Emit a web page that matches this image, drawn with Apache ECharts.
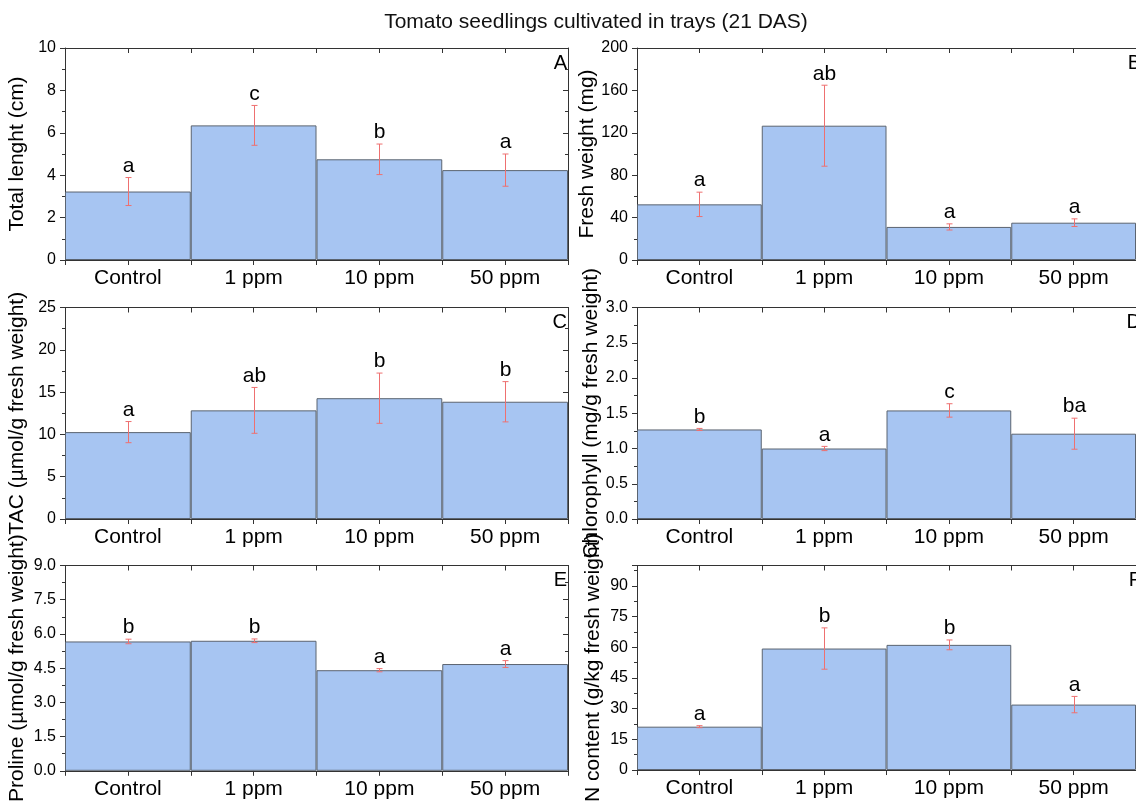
<!DOCTYPE html>
<html><head><meta charset="utf-8">
<script src="https://cdn.jsdelivr.net/npm/echarts@6/dist/echarts.min.js"></script>
<style>html,body{margin:0;padding:0;background:#fff}#c{width:1136px;height:804px}</style>
</head><body><div id="c"></div><script>
const categories = ['Control', '1 ppm', '10 ppm', '50 ppm'];

const lengthMean = [3.23, 6.35, 4.75, 4.24];
const lengthErr = [0.66, 0.94, 0.72, 0.76];
const lengthLetters = ['a', 'c', 'b', 'a'];

const freshMean = [52.5, 126.7, 31.2, 35.2];
const freshErr = [11.5, 38.2, 2.9, 3.6];
const freshLetters = ['a', 'ab', 'a', 'a'];

const tacMean = [10.27, 12.84, 14.28, 13.86];
const tacErr = [1.25, 2.71, 2.97, 2.38];
const tacLetters = ['a', 'ab', 'b', 'b'];

const chlMean = [1.27, 1.00, 1.54, 1.21];
const chlErr = [0.015, 0.03, 0.095, 0.22];
const chlLetters = ['b', 'a', 'c', 'ba'];

const prolineMean = [5.67, 5.70, 4.41, 4.68];
const prolineErr = [0.10, 0.08, 0.07, 0.15];
const prolineLetters = ['b', 'b', 'a', 'a'];

const nMean = [21.2, 59.4, 61.2, 32.0];
const nErr = [0.5, 10.1, 2.4, 4.0];
const nLetters = ['a', 'b', 'b', 'a'];

const axisNames = ['Total lenght (cm)', 'Fresh weight (mg)', 'TAC (\u00b5mol/g fresh weight)',
  'Chlorophyll (mg/g fresh weight)', 'Proline (\u00b5mol/g fresh weight)', 'N content (g/kg fresh weight)'];
const axisMax = [10, 200, 25, 3, 9, 100];
const axisInterval = [2, 40, 5, 0.5, 1.5, 15];
const axisDigits = [0, 0, 0, 1, 1, 0];
const panelTags = ['A', 'B', 'C', 'D', 'E', 'F'];
const chartTitle = 'Tomato seedlings cultivated in trays (21 DAS)';

const means = [lengthMean, freshMean, tacMean, chlMean, prolineMean, nMean];
const errs = [lengthErr, freshErr, tacErr, chlErr, prolineErr, nErr];
const letters = [lengthLetters, freshLetters, tacLetters, chlLetters, prolineLetters, nLetters];

const FONT = '"Liberation Sans", Arial, Helvetica, sans-serif';
const colLeft = [65, 637], colWidth = [503, 505];
const rowTop = [48, 307.5, 565.5], rowHeight = [212, 211.5, 211];
const lineColor = '#333';

const grid = [], xAxis = [], yAxis = [], series = [], graphic = [];
graphic.push({type: 'text', x: 596, y: 22, style: {text: chartTitle, font: '21px ' + FONT, fill: '#111', align: 'center', verticalAlign: 'middle'}});

for (let p = 0; p < 6; p++) {
  const col = p % 2, row = Math.floor(p / 2);
  grid.push({left: colLeft[col], top: rowTop[row], width: colWidth[col], height: rowHeight[row], containLabel: false});
  const base = {type: 'category', data: categories, gridIndex: p, boundaryGap: true};
  const xi = xAxis.length;
  xAxis.push(Object.assign({}, base, {position: 'bottom',
    axisLine: {show: true, lineStyle: {color: lineColor, width: 1}},
    axisTick: {show: true, alignWithLabel: true, inside: false, length: 5, lineStyle: {color: lineColor}},
    axisLabel: {show: true, fontSize: 21, fontFamily: FONT, color: '#000', margin: 8}}));
  xAxis.push(Object.assign({}, base, {position: 'bottom',
    axisLine: {show: false}, axisTick: {show: true, alignWithLabel: false, inside: false, length: 5, interval: 0, lineStyle: {color: lineColor}},
    axisLabel: {show: false}}));
  xAxis.push(Object.assign({}, base, {position: 'top',
    axisLine: {show: true, onZero: false, lineStyle: {color: lineColor, width: 1}},
    axisTick: {show: true, alignWithLabel: true, inside: true, length: 5, lineStyle: {color: lineColor}},
    axisLabel: {show: false}}));
  xAxis.push(Object.assign({}, base, {position: 'top',
    axisLine: {show: false}, axisTick: {show: true, alignWithLabel: false, inside: true, length: 5, interval: 0, lineStyle: {color: lineColor}},
    axisLabel: {show: false}}));

  const yi = yAxis.length;
  const digits = axisDigits[p];
  yAxis.push({type: 'value', gridIndex: p, position: 'left', min: 0, max: axisMax[p], interval: axisInterval[p],
    name: axisNames[p], nameLocation: 'middle', nameGap: col === 0 ? 37 : 33,
    nameTextStyle: {fontSize: 21, fontFamily: FONT, color: '#000'},
    axisLine: {show: true, lineStyle: {color: lineColor, width: 1}},
    axisTick: {show: true, inside: false, length: 5, lineStyle: {color: lineColor}},
    minorTick: {show: true, splitNumber: 2, length: 3, lineStyle: {color: lineColor}},
    splitLine: {show: false}, minorSplitLine: {show: false},
    axisLabel: {show: true, fontSize: 16, fontFamily: FONT, color: '#000', margin: 9, showMaxLabel: p === 5 ? false : true,
      formatter: v => Number(v).toFixed(digits)}});
  yAxis.push({type: 'value', gridIndex: p, position: 'right', min: 0, max: axisMax[p], interval: axisInterval[p],
    axisLine: {show: true, lineStyle: {color: lineColor, width: 1}},
    axisTick: {show: col === 0, inside: true, length: 5, lineStyle: {color: lineColor}},
    minorTick: {show: col === 0, splitNumber: 2, length: 3, lineStyle: {color: lineColor}},
    splitLine: {show: false}, axisLabel: {show: false}});

  series.push({type: 'bar', xAxisIndex: xi, yAxisIndex: yi, data: means[p], barCategoryGap: '0%',
    itemStyle: {color: '#A7C5F2', borderColor: '#5b6470', borderWidth: 1}, silent: true, z: 2});

  const lettersP = letters[p];
  series.push({type: 'custom', xAxisIndex: xi, yAxisIndex: yi, z: 5, silent: true,
    data: means[p].map((m, i) => [i, m - errs[p][i], m + errs[p][i]]),
    renderItem: (params, api) => {
      const lo = api.coord([api.value(0), api.value(1)]);
      const hi = api.coord([api.value(0), api.value(2)]);
      const x = Math.round(lo[0]) + 0.5, c = 3;
      const st = {stroke: '#EE7070', lineWidth: 1};
      return {type: 'group', children: [
        {type: 'line', shape: {x1: x, y1: lo[1], x2: x, y2: hi[1]}, style: st},
        {type: 'line', shape: {x1: x - c, y1: lo[1], x2: x + c, y2: lo[1]}, style: st},
        {type: 'line', shape: {x1: x - c, y1: hi[1], x2: x + c, y2: hi[1]}, style: st},
        {type: 'text', style: {text: lettersP[params.dataIndex], x: x, y: hi[1] - 1, align: 'center', verticalAlign: 'bottom',
          font: '21px ' + FONT, fill: '#000'}}
      ]};
    }});

  graphic.push({type: 'text', x: colLeft[col] + colWidth[col] - 1, y: rowTop[row] + 5, z: 10,
    style: {text: panelTags[p], font: '20px ' + FONT, fill: '#000', align: 'right', verticalAlign: 'top'}});
}

const chart = echarts.init(document.getElementById('c'), null, {renderer: 'canvas'});
chart.setOption({backgroundColor: '#fff', animation: false, grid, xAxis, yAxis, series, graphic});
</script></body></html>
